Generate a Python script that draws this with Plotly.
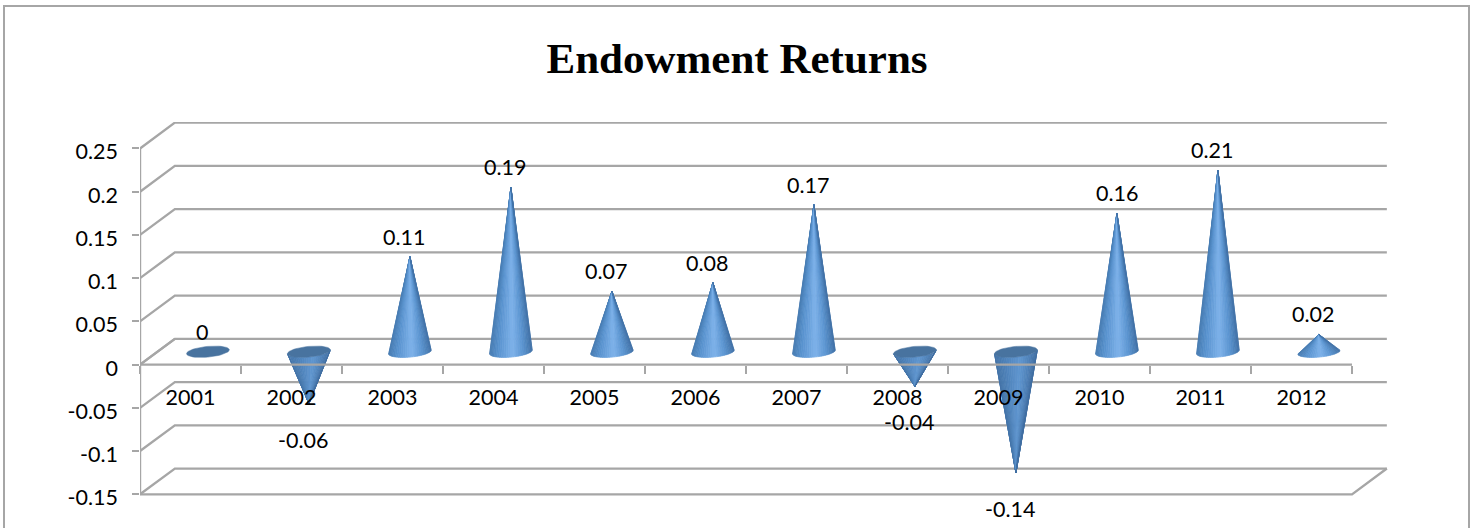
import math
import plotly.graph_objects as go

years = ["2001","2002","2003","2004","2005","2006","2007","2008","2009","2010","2011","2012"]
returns = [0, -0.06, 0.11, 0.19, 0.07, 0.08, 0.17, -0.04, -0.14, 0.16, 0.21, 0.02]
y_ticks = [-0.15, -0.1, -0.05, 0, 0.05, 0.1, 0.15, 0.2, 0.25]
y_tick_text = ["-0.15", "-0.1", "-0.05", "0", "0.05", "0.1", "0.15", "0.2", "0.25"]
title = "Endowment Returns"

GRID = "#a6a6a6"
DEPTH_X, DEPTH_Y = 0.345, 0.0298
RX, RY, TILT = 0.212, 0.0062, 0.0022
BANDS = 28
FONT = dict(family="Lato", size=21.5, color="black")
UP_RAMP = [(0, (70,122,176)), (.2, (88,146,206)), (.55, (126,178,234)), (.8, (90,148,208)), (1, (66,114,168))]
DOWN_RAMP = [(0, (66,114,166)), (.3, (80,132,188)), (.6, (96,150,208)), (.85, (78,128,182)), (1, (64,110,162))]
CAP = "#48739f"


def ramp(stops, u):
    for (a, ca), (b, cb) in zip(stops, stops[1:]):
        if u <= b:
            f = (u - a) / (b - a)
            return "rgb(%d,%d,%d)" % tuple(round(p + (q - p) * f) for p, q in zip(ca, cb))
    return "rgb(%d,%d,%d)" % stops[-1][1]


def rim(i, theta):
    cx = i + 0.5 + DEPTH_X / 2
    cy = DEPTH_Y / 2
    c = -math.cos(theta)
    return cx + RX * c, cy - RY * math.sin(theta) + TILT * c


fig = go.Figure()


def line(xs, ys, width=2.4):
    fig.add_trace(go.Scatter(x=xs, y=ys, mode="lines", line=dict(color=GRID, width=width),
                             cliponaxis=False, hoverinfo="skip", showlegend=False))


n = len(years)
# walls
for v in y_ticks:
    line([0, DEPTH_X, n + DEPTH_X], [v, v + DEPTH_Y, v + DEPTH_Y])
line([0, 0], [y_ticks[0], y_ticks[-1]])
line([0, n, n + DEPTH_X], [y_ticks[0], y_ticks[0], y_ticks[0] + DEPTH_Y])

# cones, one trace per shading band
for sign, stops in ((1, UP_RAMP), (-1, DOWN_RAMP)):
    for k in range(BANDS):
        t0, t1 = math.pi * k / BANDS, math.pi * (k + 1) / BANDS
        xs, ys = [], []
        for i, v in enumerate(returns):
            if v * sign <= 0:
                continue
            ax, ay = i + 0.5 + DEPTH_X / 2, v + DEPTH_Y / 2
            p0, p1 = rim(i, t0), rim(i, t1)
            xs += [ax, p0[0], p1[0], ax, None]
            ys += [ay, p0[1], p1[1], ay, None]
        color = ramp(stops, (1 - math.cos((t0 + t1) / 2)) / 2)
        fig.add_trace(go.Scatter(x=xs, y=ys, mode="lines", fill="toself", fillcolor=color,
                                 line=dict(color=color, width=0.7), cliponaxis=False,
                                 hoverinfo="skip", showlegend=False))

# top caps of zero and negative cones
xs, ys = [], []
for i, v in enumerate(returns):
    if v > 0:
        continue
    for k in range(49):
        p = rim(i, 2 * math.pi * k / 48)
        xs.append(p[0])
        ys.append(p[1])
    xs.append(None)
    ys.append(None)
fig.add_trace(go.Scatter(x=xs, y=ys, mode="lines", fill="toself", fillcolor=CAP,
                         line=dict(color=CAP, width=0.5), cliponaxis=False,
                         hoverinfo="skip", showlegend=False))

# front floor axis over the cones
line([0, DEPTH_X], [0, DEPTH_Y])
line([0, n], [0, 0])

# carrier for the value-axis labels, which sit a little below their tick marks
fig.add_trace(go.Scatter(x=[0] * len(y_ticks), y=y_ticks, yaxis="y2", mode="markers",
                         marker=dict(opacity=0), hoverinfo="skip", showlegend=False))

annotations = []
for i, v in enumerate(returns):
    ax, ay = i + 0.5 + DEPTH_X / 2, v + DEPTH_Y / 2
    annotations.append(dict(x=ax, y=ay, xref="x", yref="y", text=str(v), showarrow=False,
                            xshift=0 if years[i] == "2010" else -6,
                            yshift=-36 if v < 0 else 20,
                            font=FONT, xanchor="center", yanchor="middle"))

PX_PER_UNIT = 864
y_lo, y_hi = -0.16, y_ticks[0] + 372 / PX_PER_UNIT
plot_h = (y_hi - y_lo) * PX_PER_UNIT
LABEL_DROP = 3.5 / PX_PER_UNIT
fig.update_layout(
    width=1470, height=528, autosize=False,
    margin=dict(l=140, r=80, t=122, b=528 - 122 - plot_h, pad=0),
    paper_bgcolor="white", plot_bgcolor="white", showlegend=False,
    title=dict(text="<b>%s</b>" % title, x=737 / 1470, xanchor="center", y=1 - 58 / 528, yanchor="middle",
               font=dict(family="Liberation Serif", size=43, color="black")),
    xaxis=dict(range=[0, 1250 / 101], anchor="free", position=(0 - y_lo) / (y_hi - y_lo),
               tickmode="array", tickvals=[i + 0.5 for i in range(n)], ticktext=years,
               ticks="", ticklabelstandoff=18, showgrid=False, zeroline=False, showline=False,
               tickfont=FONT,
               minor=dict(tickmode="array", tickvals=list(range(n + 1)), ticks="outside",
                          ticklen=8, tickwidth=2, tickcolor=GRID, showgrid=False)),
    yaxis=dict(range=[y_lo, y_hi], tickmode="array", tickvals=y_ticks, ticktext=[""] * len(y_ticks),
               ticks="outside", ticklen=7, tickwidth=2, tickcolor=GRID,
               showgrid=False, zeroline=False, showline=False),
    yaxis2=dict(range=[y_lo + LABEL_DROP, y_hi + LABEL_DROP], overlaying="y", anchor="x", side="left",
                tickmode="array", tickvals=y_ticks, ticktext=y_tick_text, ticks="",
                ticklabelstandoff=21, showgrid=False, zeroline=False, showline=False, tickfont=FONT),
    annotations=annotations,
    shapes=[dict(type="rect", xref="paper", yref="paper", layer="below",
                 x0=-136 / 1250, x1=1329 / 1250, y0=-60 / plot_h, y1=(122 - 6) / plot_h + 1,
                 line=dict(color="#a6a6a6", width=2), fillcolor="rgba(0,0,0,0)")],
)

fig.write_html("out.html", post_script="document.body.style.margin='0';document.body.style.overflow='hidden';",
               config=dict(displayModeBar=False))
